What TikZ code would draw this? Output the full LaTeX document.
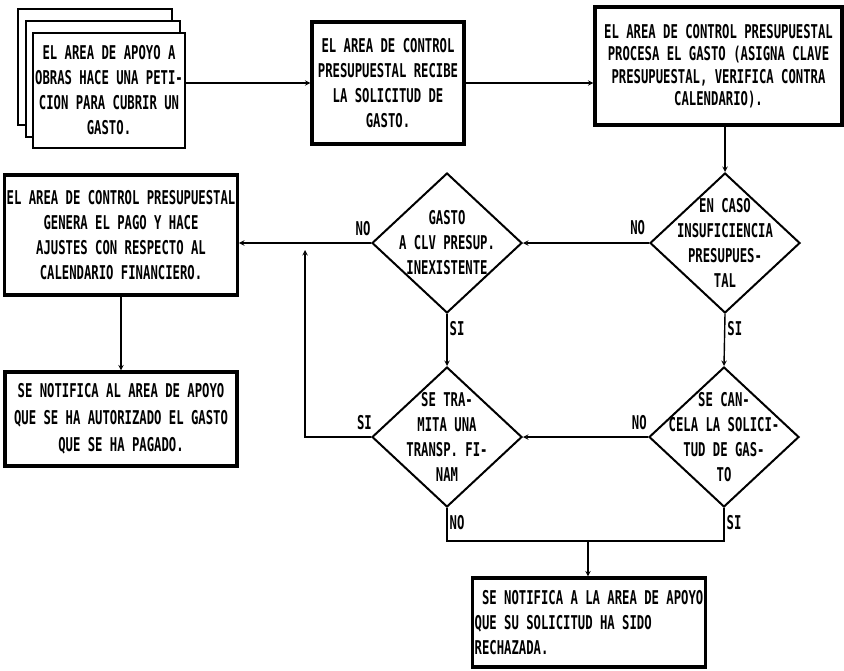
\documentclass[tikz,border=0pt]{standalone}
\usepackage{fontspec}
\newfontfamily\flowfont[FakeStretch=0.645]{DejaVu Sans Mono}
\usetikzlibrary{shapes.geometric, arrows.meta}

\tikzset{
  txt/.style={font=\flowfont\bfseries\fontsize{19}{25}\selectfont},
  sheet/.style={draw, fill=white, line width=1.3pt},
  proc/.style={txt, draw, fill=white, line width=3.2pt, inner sep=2pt, align=center},
  dec/.style={draw, diamond, line width=2pt, inner sep=0pt,
              minimum width=150pt, minimum height=140pt},
  dectext/.style={txt, align=center, inner sep=0pt},
  lab/.style={txt, inner sep=3pt},
  flow/.style={line width=1.4pt},
}

\begin{document}
\begin{tikzpicture}[>=stealth, x=1pt, y=-1pt]
  \useasboundingbox (0,0) rectangle (844,670);
  % hojas de la peticion
  \draw[sheet] (18,9) rectangle (172,125);
  \draw[sheet] (26,21) rectangle (180,137);
  \node[sheet, txt, align=center, minimum width=152pt, minimum height=115pt, inner sep=1pt]
    (peticion) at (109,90.5) {EL AREA DE APOYO A\\OBRAS HACE UNA PETI-\\CION PARA CUBRIR UN\\GASTO.};
  % procesos
  \node[proc, minimum width=152pt, minimum height=122pt] (recibe) at (388,83)
    {EL AREA DE CONTROL\\PRESUPUESTAL RECIBE\\LA SOLICITUD DE\\GASTO.};
  \node[proc, minimum width=247pt, minimum height=118pt,
        font=\flowfont\bfseries\fontsize{19}{22.5}\selectfont] (procesa) at (718.5,66)
    {EL AREA DE CONTROL PRESUPUESTAL\\PROCESA EL GASTO (ASIGNA CLAVE\\PRESUPUESTAL, VERIFICA CONTRA\\CALENDARIO).};
  \node[proc, minimum width=232pt, minimum height=120pt] (genera) at (121,235)
    {EL AREA DE CONTROL PRESUPUESTAL\\GENERA EL PAGO Y HACE\\AJUSTES CON RESPECTO AL\\CALENDARIO FINANCIERO.};
  \node[proc, minimum width=232pt, minimum height=94pt,
        font=\flowfont\bfseries\fontsize{19}{27}\selectfont] (autoriza) at (121,419)
    {SE NOTIFICA AL AREA DE APOYO\\QUE SE HA AUTORIZADO EL GASTO\\QUE SE HA PAGADO.};
  \node[proc, align=left, minimum width=232pt, minimum height=89pt] (rechaza) at (589,622.5)
    {\ SE NOTIFICA A LA AREA DE APOYO\\QUE SU SOLICITUD HA SIDO\\RECHAZADA.};
  % decisiones
  \node[dec, label={[dectext]center:EN CASO\\INSUFICIENCIA\\PRESUPUES-\\TAL}] (insuf) at (725,243) {};
  \node[dec, label={[dectext]center:GASTO\\A CLV PRESUP.\\INEXISTENTE}] (inexist) at (447,243) {};
  \node[dec, label={[dectext]center:SE CAN-\\CELA LA SOLICI-\\TUD DE GAS-\\TO}] (cancela) at (724,437) {};
  \node[dec, label={[dectext]center:SE TRA-\\MITA UNA\\TRANSP. FI-\\NAM}] (tramita) at (447,437) {};
  \coordinate (sube) at (305,250);
  \coordinate (junta) at (588,541);
  % conectores
  \draw[flow,->] (peticion.east |- recibe.west) -- (recibe.west);
  \draw[flow,->] (recibe.east) -- (procesa.west |- recibe.east);
  \draw[flow,->] (insuf.north |- procesa.south) -- (insuf.north);
  \draw[flow,->] (insuf.west) -- node[lab, pos=0.09, above=5pt] {NO} (inexist.east);
  \draw[flow,->] (inexist.west) -- node[lab, pos=0.06, above=4pt] {NO} (genera.east |- inexist.west);
  \draw[flow,->] (genera.south) -- (autoriza.north);
  \draw[flow,->] (insuf.south) -- node[lab, pos=0.28, right=-1pt] {SI} (cancela.north);
  \draw[flow,->] (inexist.south) -- node[lab, pos=0.28, right=-1pt] {SI} (tramita.north);
  \draw[flow,->] (cancela.west) -- node[lab, pos=0.07, above=4pt] {NO} (tramita.east);
  \draw[flow,->] (tramita.west) -- node[lab, pos=0.1, above=4pt] {SI} (tramita.west -| sube) -- (sube);
  \draw[flow] (tramita.south) -- node[lab, pos=0.45, right=-1pt] {NO} (tramita.south |- junta) -- (junta);
  \draw[flow] (cancela.south) -- node[lab, pos=0.45, right=-1pt] {SI} (cancela.south |- junta) -- (junta);
  \draw[flow,->] (junta) -- (rechaza.north -| junta);
\end{tikzpicture}
\end{document}
